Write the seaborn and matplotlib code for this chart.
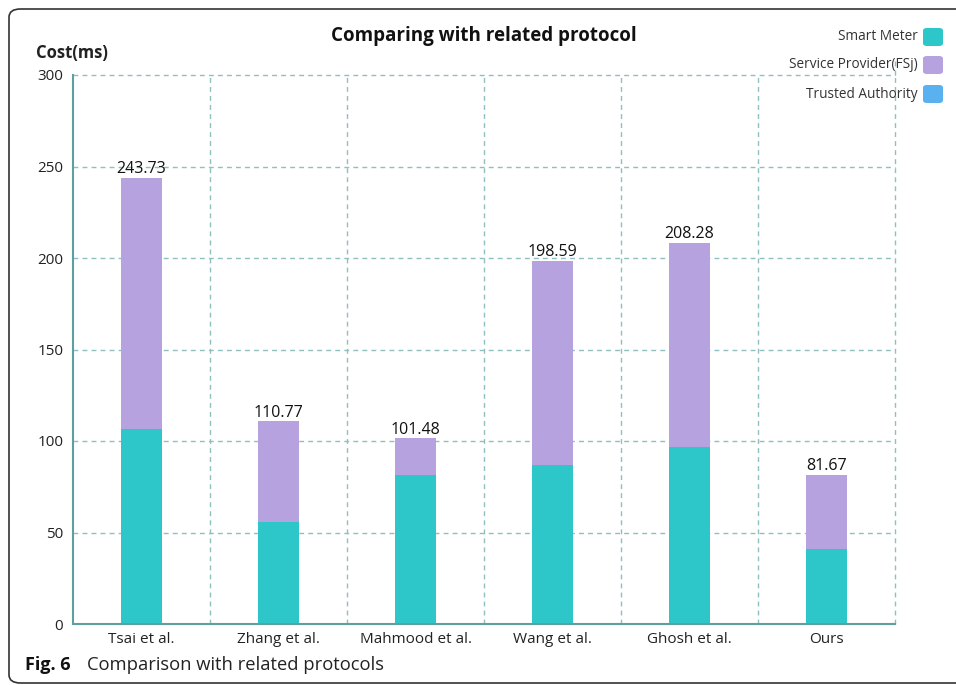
import matplotlib
matplotlib.use("Agg")
import matplotlib.pyplot as plt
from matplotlib.patches import FancyBboxPatch
import seaborn as sns
import pandas as pd
import numpy as np

categories = ["Tsai et al.", "Zhang et al.", "Mahmood et al.", "Wang et al.", "Ghosh et al.", "Ours"]
smart_meter = [106.3, 55.5, 81.2, 86.8, 96.8, 40.8]
totals = [243.73, 110.77, 101.48, 198.59, 208.28, 81.67]
trusted_authority = [0, 0, 0, 0, 0, 0]
series_names = ["Smart Meter", "Service Provider(FSj)", "Trusted Authority"]
colors = ["#2ec7c9", "#b6a2de", "#5ab1ef"]
yticks = [0, 50, 100, 150, 200, 250, 300]

df = pd.DataFrame({"cat": categories, "sm": smart_meter, "total": totals})

sns.set_theme(style="white")
plt.rcParams["font.family"] = ["Open Sans", "DejaVu Sans"]

fig = plt.figure(figsize=(9.56, 6.85), dpi=100)
ax = fig.add_axes([73/956, 1-624/685, (895-73)/956, (624-75)/685])

sns.barplot(data=df, x="cat", y="total", color=colors[1], width=0.3, ax=ax,
            saturation=1, edgecolor="none", order=categories)
sns.barplot(data=df, x="cat", y="sm", color=colors[0], width=0.3, ax=ax,
            saturation=1, edgecolor="none", order=categories)

ax.set_xlim(-0.5, len(categories) - 0.5)
ax.set_ylim(0, 300)
ax.set_xlabel("")
ax.set_ylabel("")

grid_c = "#8fbfbf"
axis_c = "#5e9fa1"
for yv in yticks[1:]:
    ax.axhline(yv, color=grid_c, lw=1.0, ls=(0, (3.5, 3)), zorder=0, clip_on=False)
for xv in np.arange(-0.5, len(categories), 1.0)[1:]:
    ax.axvline(xv, color=grid_c, lw=1.0, ls=(0, (3.5, 3)), zorder=0, clip_on=False)
# right edge dashed line reaches slightly above the plot area
ax.plot([len(categories) - 0.5, len(categories) - 0.5], [300, 309], color=grid_c,
        lw=1.0, ls=(0, (3.5, 3)), zorder=0, clip_on=False)

ax.set_yticks(yticks)
ax.set_yticklabels([str(v) for v in yticks], fontsize=11, color="#222222")
ax.set_xticks(np.arange(-0.5, len(categories), 1.0))
ax.set_xticklabels([])
ax.set_xticks(range(len(categories)), minor=True)
ax.set_xticklabels(categories, minor=True, fontsize=11, color="#222222")
ax.tick_params(axis="x", which="major", length=5, color=axis_c, direction="out")
ax.tick_params(axis="x", which="minor", length=0, pad=6)
ax.tick_params(axis="y", length=5, color=axis_c, direction="out", pad=2)

for s in ["top", "right"]:
    ax.spines[s].set_visible(False)
for s in ["left", "bottom"]:
    ax.spines[s].set_color(axis_c)
    ax.spines[s].set_linewidth(1.5)

for i, t in enumerate(totals):
    ax.text(i, t + 0.3, f"{t:.2f}", ha="center", va="bottom", fontsize=11.5, color="#111111")

fig.text(484/956, 1-36/685, "Comparing with related protocol", ha="center", va="center",
         fontsize=13.5, fontweight="bold", color="#111111")
fig.text(36/956, 1-53/685, "Cost(ms)", ha="left", va="center",
         fontsize=12, fontweight="bold", color="#222222")

# legend (right aligned text, rounded markers)
leg_y = [37, 65, 94]
for name, c, yy in zip(series_names, colors, leg_y):
    fig.text(918/956, 1-yy/685, name, ha="right", va="center", fontsize=9.8, color="#333333")
    fig.patches.append(FancyBboxPatch((923/956, 1-(yy+9)/685), 20/956, 18/685,
                                      boxstyle="round,pad=0,rounding_size=0.004",
                                      transform=fig.transFigure, facecolor=c, edgecolor="none"))

# caption
fig.text(25/956, 1-665/685, "Fig. 6", ha="left", va="center", fontsize=13,
         fontweight="bold", color="#111111")
fig.text(87/956, 1-665/685, "Comparison with related protocols", ha="left", va="center",
         fontsize=13.2, color="#222222")

# frame (right edge runs off the picture)
fig.patches.append(FancyBboxPatch((9/956, 2/685), 1.2, 1-9/685 - 2/685,
                                  boxstyle="round,pad=0,rounding_size=0.012",
                                  transform=fig.transFigure, facecolor="none",
                                  edgecolor="#333333", lw=1.2, clip_on=True))

fig.savefig("out.png", dpi=100)
